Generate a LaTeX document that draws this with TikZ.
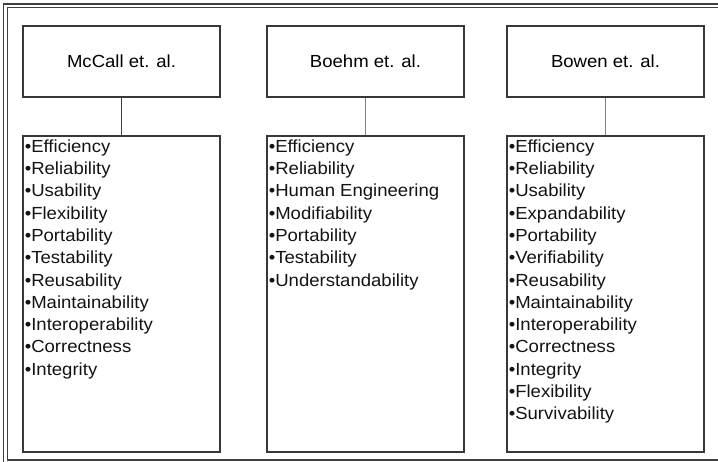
\documentclass[tikz,border=0pt]{standalone}
\usepackage{fontspec}
\setmainfont[FakeStretch=1.06]{Liberation Sans}
\usetikzlibrary{calc}
\begin{document}
\begin{tikzpicture}[x=1pt,y=-1pt,
  framecol/.style={draw=black!75,line width=1.2pt},
  headbox/.style={draw=black!78,line width=1.4pt,minimum width=197pt,minimum height=71pt,
    inner sep=0pt,font=\fontsize{17.5}{20}\selectfont},
  listbox/.style={draw=black!78,line width=1.4pt,minimum width=197pt,minimum height=316pt,inner sep=0pt},
  link/.style={line width=1.4pt},
  item/.style={anchor=base west,inner sep=0pt,outer sep=0pt,text=black!92,
    font=\fontsize{17.5}{20}\selectfont}]
\useasboundingbox (0,0) rectangle (718,462);
\fill[white] (0,0) rectangle (718,462);

% page frame (double rule on top and left, open on the right)
\draw[framecol] (718,4) -- (3.5,4) -- (3.5,462);
\draw[framecol] (718,7.5) -- (7.5,7.5) -- (7.5,460) -- (718,460);

% header boxes
\node[headbox] (mccall) at (121.5,61.5) {McCall et. al.};
\node[headbox] (boehm)  at (365.5,61.5) {Boehm et. al.};
\node[headbox] (bowen)  at (605.5,61.5) {Bowen et. al.};

% list boxes
\node[listbox] (mlist) at (121.5,294) {};
\node[listbox] (blist) at (365.5,294) {};
\node[listbox] (wlist) at (605.5,294) {};

% connectors
\draw[link,black!75] (mccall.south) -- (mlist.north);
\draw[link,black!50] (boehm.south) -- (blist.north);
\draw[link,black!50] (bowen.south) -- (wlist.north);

% factor lists
\foreach \t [count=\i] in {Efficiency,Reliability,Usability,Flexibility,Portability,
  Testability,Reusability,Maintainability,Interoperability,Correctness,Integrity}
  \node[item] (m\i) at ($(mlist.north west)+(2.5,17+22.3*\i-22.3)$) {•\t};
\foreach \t [count=\i] in {Efficiency,Reliability,Human Engineering,Modifiability,
  Portability,Testability,Understandability}
  \node[item] (b\i) at ($(blist.north west)+(2.5,17+22.3*\i-22.3)$) {•\t};
\foreach \t [count=\i] in {Efficiency,Reliability,Usability,Expandability,Portability,
  Verifiability,Reusability,Maintainability,Interoperability,Correctness,Integrity,
  Flexibility,Survivability}
  \node[item] (w\i) at ($(wlist.north west)+(2.5,17+22.3*\i-22.3)$) {•\t};
\end{tikzpicture}
\end{document}
